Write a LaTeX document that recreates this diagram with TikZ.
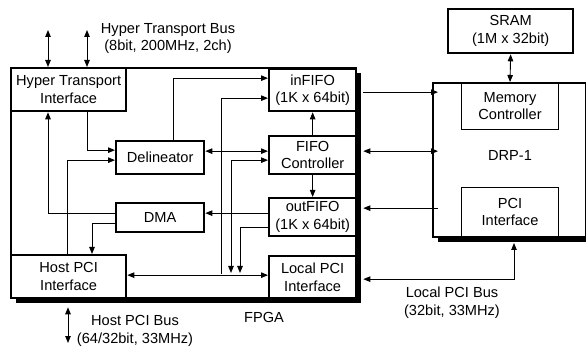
\documentclass[tikz,border=0pt]{standalone}
\usepackage{fontspec}
\setmainfont{Liberation Sans}
\usetikzlibrary{arrows.meta,shadows}
\begin{document}
\begin{tikzpicture}[x=1pt,y=-1pt,
  >={Triangle[length=7pt,width=5.5pt]},
  every node/.style={font=\fontsize{14.6}{17.5}\selectfont, align=center, inner sep=0pt},
  bx/.style={draw, line width=2.3pt, fill=white, anchor=north west},
  tbx/.style={draw, line width=1pt, anchor=north west},
  shd/.style={drop shadow={shadow xshift=5pt, shadow yshift=-5pt, opacity=1, fill=black}},
  conn/.style={line width=0.9pt, ->},
  bconn/.style={line width=0.9pt, <->},
  lbl/.style={anchor=center}
]
\useasboundingbox (0,0) rectangle (586,347);

% FPGA
\node[draw, line width=2.2pt, fill=white, anchor=north west, shd, minimum width=345pt, minimum height=230pt] (fpga) at (10,67) {};
\node[bx, minimum width=115pt, minimum height=43pt] (ht) at (10,67) {Hyper Transport\\Interface};
\node[bx, minimum width=88pt, minimum height=33pt] (del) at (115,140) {Delineator};
\node[bx, minimum width=88pt, minimum height=29pt] (dma) at (115,202) {DMA};
\node[bx, minimum width=115pt, minimum height=43pt] (hpci) at (10,254) {Host PCI\\Interface};
\node[bx, minimum width=87pt, minimum height=42pt] (infifo) at (268,68) {inFIFO\\(1K x 64bit)};
\node[bx, minimum width=87pt, minimum height=38pt] (ffc) at (268,135) {FIFO\\Controller};
\node[bx, minimum width=87pt, minimum height=38pt] (ofifo) at (268,197) {outFIFO\\(1K x 64bit)};
\node[bx, minimum width=87pt, minimum height=42pt] (lpci) at (268,255) {Local PCI\\Interface};

% DRP side
\node[bx, minimum width=125pt, minimum height=44pt] (sram) at (447,8) {SRAM\\(1M x 32bit)};
\node[draw, line width=2.3pt, fill=white, anchor=north west, shd, minimum width=153pt, minimum height=154pt] (drp) at (432,82) {};
\node[lbl] (drpl) at (510,155) {DRP-1};
\node[tbx, minimum width=97pt, minimum height=47pt] (mem) at (461,82) {Memory\\Controller};
\node[tbx, minimum width=97pt, minimum height=49pt] (pcii) at (461,187) {PCI\\Interface};

% labels
\node[lbl] (htbl) at (168,38.5) {Hyper Transport Bus\\(8bit, 200MHz, 2ch)};
\node[lbl] (fpgal) at (264,317) {FPGA};
\node[lbl] (hpbl) at (135,331) {Host PCI Bus\\(64/32bit, 33MHz)};
\node[lbl] (lpbl) at (452,302.5) {Local PCI Bus\\(32bit, 33MHz)};

% free ends
\coordinate (htb1) at (48,30);
\coordinate (htb2) at (87,30);
\coordinate (hpb) at (68,343);
\coordinate (j1) at (221,274);
\coordinate (j2) at (231,273);
\coordinate (j3) at (240,273);

% connectors
\draw[bconn] (htb1) -- (htb1 |- ht.north);
\draw[bconn] (htb2) -- (htb2 |- ht.north);
\draw[bconn] ([xshift=58pt,yshift=-8pt]hpci.south west) -- (hpb);

\draw[conn] ([xshift=77pt]ht.south west) |- ([yshift=7.5pt]del.west);
\draw[conn] ([xshift=57pt]hpci.north west) |- ([yshift=-2.5pt]del.west);
\draw[conn] ([yshift=4.5pt]dma.west) -| ([xshift=38pt]ht.south west);
\draw[conn] ([yshift=-5.5pt]dma.west) -| ([xshift=82pt]hpci.north west);
\draw[conn] ([xshift=58pt]del.north west) |- ([yshift=12pt]infifo.west);
\draw[bconn] ([yshift=6.5pt]del.east) -- ([yshift=6.5pt]del.east -| ffc.west);

\draw[bconn] ([yshift=1.5pt]hpci.east) -- ([yshift=1.5pt]hpci.east -| lpci.west);
\draw[conn] (j1) |- ([yshift=-8pt]infifo.west);
\draw[bconn] (j2) |- ([yshift=-5pt]ffc.west);
\draw[conn] ([yshift=-10pt]ofifo.west) -| (j3);
\draw[conn] ([yshift=4pt]ofifo.west) -- ([yshift=4pt]ofifo.west -| dma.east);

\draw[conn] (ffc.north) -- (infifo.south);
\draw[conn] (ffc.south) -- (ofifo.north);

\draw[conn] ([xshift=6pt,yshift=-2pt]infifo.east) -- ([xshift=6pt,yshift=-2pt]infifo.east -| drp.west);
\draw[bconn] ([xshift=6pt,yshift=4pt]ffc.east) -- ([xshift=6pt,yshift=4pt]ffc.east -| drp.west);
\draw[conn] ([xshift=6pt,yshift=9pt]ofifo.east -| drp.west) -- ([xshift=6pt,yshift=9pt]ofifo.east);
\draw[bconn] ([xshift=6pt,yshift=-2pt]lpci.east) -| ([xshift=4pt,yshift=-6pt]pcii.south);
\draw[bconn] (sram.south) -- (mem.north);
\end{tikzpicture}
\end{document}
